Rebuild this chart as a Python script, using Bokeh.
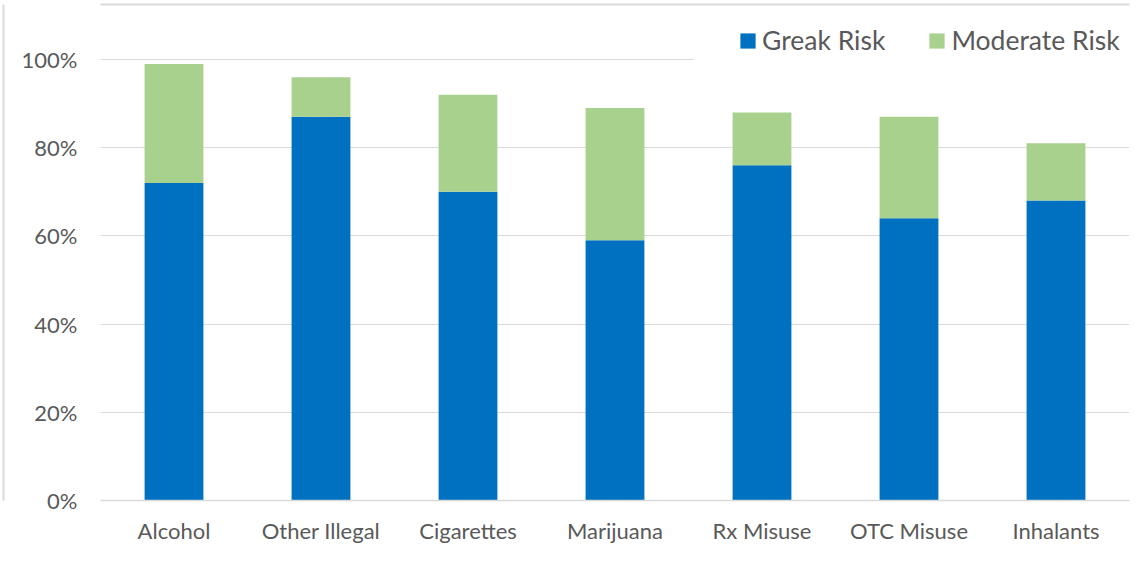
from bokeh.plotting import figure
from bokeh.models import (ColumnDataSource, FactorRange, Range1d, FixedTicker,
                          PrintfTickFormatter, BoxAnnotation, LinearAxis,
                          LinearScale, CategoricalAxis)
from bokeh.embed import file_html
from bokeh.resources import INLINE

categories = ["Alcohol", "Other Illegal", "Cigarettes", "Marijuana",
              "Rx Misuse", "OTC Misuse", "Inhalants"]
great_risk = [72, 87, 70, 59, 76, 64, 68]
moderate_risk = [27, 9, 22, 30, 12, 23, 13]
series_names = ["Greak Risk", "Moderate Risk"]
y_ticks = [0, 20, 40, 60, 80, 100]

BLUE = "#0070C0"
GREEN = "#A9D18E"
TEXT = "#595959"
GRID = "#d9d9d9"
FONT = "Lato"

source = ColumnDataSource(dict(cat=categories, great=great_risk, moderate=moderate_risk))

p = figure(x_range=FactorRange(factors=categories, range_padding=0),
           y_range=Range1d(0, 112.47),
           width=1140, height=572, output_backend="svg", toolbar_location=None,
           min_border_left=100, min_border_right=11, min_border_top=4,
           min_border_bottom=72)
p.outline_line_color = None
p.background_fill_color = "white"
p.border_fill_color = "white"

# pixel-aligned helper range, used only for the outer left border line
p.extra_y_ranges = {"py": Range1d(500, 4)}
p.extra_y_scales = {"py": LinearScale()}

# white gap in the 100% gridline behind the legend
p.add_layout(BoxAnnotation(left=693, right=1140, top=4, bottom=66,
                           left_units="canvas", right_units="canvas",
                           top_units="canvas", bottom_units="canvas",
                           fill_color="white", fill_alpha=1, line_color=None,
                           level="underlay"))

p.vbar_stack(["great", "moderate"], x="cat", width=0.4, color=[BLUE, GREEN],
             line_color=None, source=source, legend_label=series_names)

p.xgrid.grid_line_color = None
p.ygrid.grid_line_color = GRID
p.ygrid.grid_line_width = 1

p.yaxis.ticker = FixedTicker(ticks=y_ticks)
p.yaxis.formatter = PrintfTickFormatter(format="%d%%")
p.yaxis.axis_line_color = None
p.yaxis.major_tick_line_color = None
p.yaxis.minor_tick_line_color = None
p.yaxis.major_tick_out = 0
p.yaxis.major_tick_in = 0
p.yaxis.minor_tick_out = 0
p.yaxis.major_label_standoff = 23
# blank axis label only widens the axis panel so the border line sits at the edge
p.yaxis.axis_label = "\u00a0"
p.yaxis.axis_label_text_font_size = "10px"
p.yaxis.axis_label_standoff = 1

p.xaxis.axis_line_color = GRID
p.xaxis.axis_line_width = 1.5
p.xaxis.major_tick_line_color = None
p.xaxis.minor_tick_line_color = None
p.xaxis.major_label_standoff = 10

for ax in (p.xaxis[0], p.yaxis[0]):
    ax.major_label_text_font = FONT
    ax.major_label_text_font_size = "22px"
    ax.major_label_text_color = TEXT

# outer border: left line
p.add_layout(LinearAxis(y_range_name="py", bounds=(4, 577),
                        ticker=FixedTicker(ticks=[]), axis_line_color=GRID,
                        axis_line_width=2, major_tick_line_color=None,
                        minor_tick_line_color=None, major_tick_out=0,
                        major_tick_in=0, minor_tick_out=0, minor_tick_in=0,
                        major_label_standoff=0,
                        major_label_text_font_size="0px"), "left")
# outer border: top line
p.add_layout(CategoricalAxis(axis_line_color=GRID, axis_line_width=2,
                             major_tick_line_color=None, major_tick_out=0,
                             major_tick_in=0, major_label_standoff=0,
                             major_label_text_font_size="0px",
                             major_label_text_alpha=0), "above")

lg = p.legend[0]
lg.location = (638, 444)
lg.orientation = "horizontal"
lg.margin = 0
lg.padding = 0
lg.spacing = 42
lg.glyph_width = 19
lg.glyph_height = 19
lg.label_standoff = 5
lg.label_text_font = FONT
lg.label_text_font_size = "26.5px"
lg.label_text_color = TEXT
lg.background_fill_alpha = 0
lg.border_line_alpha = 0

open("out.html", "w").write(file_html(p, INLINE))
